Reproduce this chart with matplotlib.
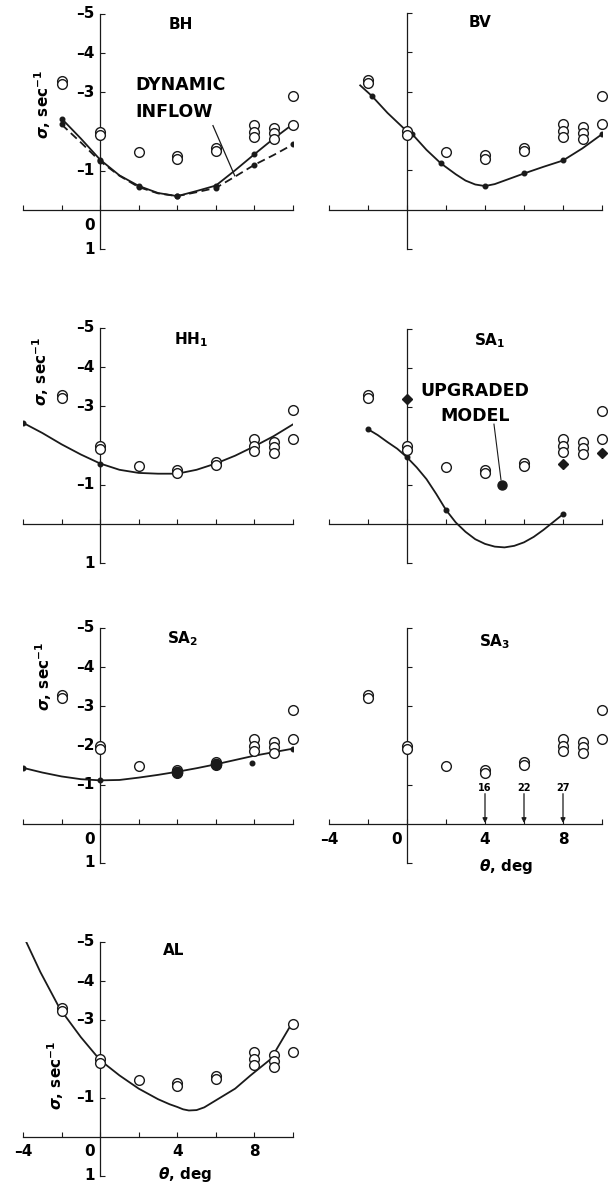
import matplotlib
matplotlib.use('Agg')
import matplotlib.pyplot as plt

plt.rcParams['font.family'] = ['DejaVu Sans']
plt.rcParams['font.weight'] = 'bold'
plt.rcParams['mathtext.fontset'] = 'custom'
plt.rcParams['mathtext.rm'] = 'DejaVu Sans:bold'
plt.rcParams['mathtext.it'] = 'DejaVu Sans:italic'
plt.rcParams['mathtext.bf'] = 'DejaVu Sans:bold'

# ---------------- data ----------------
# flight-test points (open circles), same in every panel
theta_exp = [-2, -2, 0, 0, 2, 4, 4, 6, 6, 8, 8, 8, 9, 9, 9, 10, 10]
sigma_exp = [-3.3, -3.22, -2.0, -1.9, -1.47, -1.38, -1.3, -1.57, -1.5,
             -2.17, -2.0, -1.85, -2.1, -1.95, -1.8, -2.9, -2.17]

# BH
bh_theta = [-2, -1, 0, 1, 2, 3, 4, 5, 6, 7, 8, 9, 10]
bh_solid = [-2.33, -1.82, -1.28, -0.88, -0.61, -0.43, -0.35, -0.48, -0.62, -1.01, -1.42, -1.82, -2.19]
bh_dash = [-2.18, -1.72, -1.24, -0.87, -0.58, -0.42, -0.35, -0.45, -0.56, -0.85, -1.15, -1.4, -1.67]

# BV
bv_theta = [-2.4, -1.8, -1, 0, 0.27, 1, 1.73, 2.5, 3, 3.5, 4, 4.5, 5, 6, 7, 8, 9, 10]
bv_sigma = [-3.16, -2.89, -2.46, -1.99, -1.92, -1.52, -1.18, -0.9, -0.74, -0.64, -0.6,
            -0.65, -0.74, -0.92, -1.09, -1.25, -1.56, -1.92]
bv_dots = [1, 4, 6, 10, 13, 15, 17]

# HH1
hh_theta = [-4, -3, -2, -1, 0, 1, 2, 3, 4, 5, 6, 7, 8, 9, 10]
hh_sigma = [-2.58, -2.32, -2.03, -1.77, -1.54, -1.38, -1.3, -1.28, -1.28, -1.38, -1.54, -1.74, -1.98, -2.24, -2.54]
hh_dots = [0, 4, 8, 12]

# SA1
sa1_theta = [-2, -1.5, -1, -0.5, 0, 0.5, 1, 1.5, 2, 2.5, 3, 3.5, 4, 4.5, 5, 5.5, 6, 6.5, 7, 7.5, 8]
sa1_sigma = [-2.43, -2.28, -2.1, -1.93, -1.71, -1.45, -1.15, -0.77, -0.36, -0.04, 0.2, 0.39,
             0.51, 0.58, 0.6, 0.56, 0.47, 0.33, 0.15, -0.05, -0.25]
sa1_dots = [0, 4, 8, 20]
sa1_up_theta = [0, 8, 10]
sa1_up_sigma = [-3.2, -1.53, -1.83]
sa1_upc_theta = [4.87]
sa1_upc_sigma = [-1.0]

# SA2
sa2_theta = [-4, -3, -2, -1, 0, 1, 2, 3, 4, 5, 6, 7, 8, 9, 10]
sa2_sigma = [-1.43, -1.31, -1.21, -1.14, -1.11, -1.12, -1.18, -1.25, -1.33, -1.42, -1.52, -1.63, -1.74, -1.83, -1.92]
sa2_dots = [0, 4, 14]
sa2_big_theta = [4, 6]
sa2_big_sigma = [-1.33, -1.52]
sa2_small_theta = [7.86]
sa2_small_sigma = [-1.56]

# SA3 arrows
sa3_arrow_theta = [4, 6, 8]
sa3_arrow_text = ['16', '22', '27']

# AL
al_theta = [-3.83, -3.1, -2.09, -1, 0, 1, 2, 3, 3.6, 4, 4.3, 4.6, 5, 5.4, 6, 7, 7.8, 8.85, 9.83]
al_sigma = [-5.0, -4.23, -3.29, -2.56, -1.97, -1.58, -1.24, -0.97, -0.84, -0.77, -0.71, -0.68,
            -0.69, -0.76, -0.94, -1.24, -1.58, -2.0, -2.82]

# ---------------- layout ----------------
W, H = 608, 1189
fig = plt.figure(figsize=(W / 100, H / 100), dpi=100)
INK = '#1a1a1a'
FS = 11
FS_ANN = 12.5


def fmt(v):
    return f'{v:d}'.replace('-', '\u2013')


def make_ax(left, right, top, bottom):
    ax = fig.add_axes([left / W, 1 - bottom / H, (right - left) / W, (bottom - top) / H])
    ax.set_xlim(-4, 10)
    ax.set_ylim(1, -5)
    ax.patch.set_alpha(0)
    for s in ['top', 'right']:
        ax.spines[s].set_visible(False)
    ax.spines['left'].set_position(('data', 0))
    ax.spines['bottom'].set_position(('data', 0))
    for s in ['left', 'bottom']:
        ax.spines[s].set_linewidth(0.9)
        ax.spines[s].set_color(INK)
    ax.spines['left'].set_bounds(-5, 1)
    ax.spines['bottom'].set_bounds(-4, 10)
    ax.set_xticks([-4, -2, 0, 2, 4, 6, 8, 10])
    ax.set_yticks([-5, -4, -3, -2, -1, 1])
    ax.tick_params(direction='in', length=3.5, width=0.8, color=INK,
                   labelleft=False, labelbottom=False)
    return ax


def exp_pts(ax):
    ax.plot(theta_exp, sigma_exp, 'o', ms=7, mfc='white', mec=INK, mew=1.0,
            clip_on=False, zorder=5)


def ylabels(ax, vals, zero=True):
    for v in vals:
        ax.text(-0.28, v, fmt(v), ha='right', va='center', fontsize=FS)
    if zero:
        ax.text(-0.28, 0.4, '0', ha='right', va='center', fontsize=FS)
    ax.text(-0.28, 1.0, '1', ha='right', va='center', fontsize=FS)


def sig_label(ax, x, y):
    ax.text(x, y, r'$\sigma$, sec$^{-1}$', rotation=90, ha='center', va='center', fontsize=FS)


def title(ax, x, y, s):
    ax.text(x, y, s, ha='center', va='baseline', fontsize=FS)


def curve(ax, th, sg, dots=None, ls='-'):
    ax.plot(th, sg, ls, color=INK, lw=1.3, zorder=4, solid_joinstyle='round')
    if dots is not None:
        ax.plot([th[i] for i in dots], [sg[i] for i in dots], 'o', ms=3.3,
                color=INK, zorder=4)


# BH
ax = make_ax(23, 293, 14, 249)
exp_pts(ax)
ax.plot(bh_theta, bh_solid, '-', color=INK, lw=1.3, marker='o', ms=3.3, markevery=2, zorder=4)
ax.plot(bh_theta, bh_dash, '--', color=INK, lw=1.3, dashes=(4.5, 2.5), marker='o', ms=3.3,
        markevery=2, zorder=4)
ylabels(ax, [-5, -4, -3, -1])
sig_label(ax, -3.0, -2.7)
title(ax, 4.2, -4.62, 'BH')
ax.text(1.81, -3.05, 'DYNAMIC', ha='left', va='baseline', fontsize=FS_ANN)
ax.text(1.81, -2.36, 'INFLOW', ha='left', va='baseline', fontsize=FS_ANN)
ax.plot([5.85, 6.98], [-2.15, -0.87], color=INK, lw=0.9)

# BV
ax = make_ax(329, 602, 13, 249)
exp_pts(ax)
curve(ax, bv_theta, bv_sigma, bv_dots)
title(ax, 3.74, -4.64, 'BV')

# HH1
ax = make_ax(23, 293, 328, 563)
exp_pts(ax)
curve(ax, hh_theta, hh_sigma, hh_dots)
ylabels(ax, [-5, -4, -3, -1], zero=False)
sig_label(ax, -3.1, -3.9)
title(ax, 4.7, -4.59, r'HH$_{1}$')

# SA1
ax = make_ax(329, 602, 329, 563)
exp_pts(ax)
curve(ax, sa1_theta, sa1_sigma, sa1_dots)
ax.plot(sa1_up_theta, sa1_up_sigma, 'D', ms=5, color=INK, clip_on=False, zorder=6)
ax.plot(sa1_upc_theta, sa1_upc_sigma, 'o', ms=6.5, color=INK, clip_on=False, zorder=6)
title(ax, 4.26, -4.59, r'SA$_{1}$')
ax.text(3.5, -3.28, 'UPGRADED', ha='center', va='baseline', fontsize=FS_ANN)
ax.text(3.5, -2.64, 'MODEL', ha='center', va='baseline', fontsize=FS_ANN)
ax.plot([4.46, 4.82], [-2.56, -1.13], color=INK, lw=0.8)

# SA2
ax = make_ax(23, 293, 628, 863)
exp_pts(ax)
curve(ax, sa2_theta, sa2_sigma, sa2_dots)
ax.plot(sa2_big_theta, sa2_big_sigma, 'o', ms=7.5, color=INK, zorder=6)
ax.plot(sa2_small_theta, sa2_small_sigma, 'o', ms=3.3, color=INK, zorder=6)
ylabels(ax, [-5, -4, -3, -2, -1])
sig_label(ax, -2.95, -3.77)
title(ax, 4.3, -4.62, r'SA$_{2}$')

# SA3
ax = make_ax(329, 602, 628, 863)
exp_pts(ax)
for t, s in zip(sa3_arrow_theta, sa3_arrow_text):
    ax.annotate('', xy=(t, -0.02), xytext=(t, -0.77),
                arrowprops=dict(arrowstyle='-|>', color=INK, lw=0.9,
                                mutation_scale=7, shrinkA=0, shrinkB=0))
    ax.text(t, -0.92, s, ha='center', va='center', fontsize=7)
for v in [-4, 4, 8]:
    ax.text(v, 0.41, fmt(v), ha='center', va='center', fontsize=FS)
ax.text(-0.28, 0.41, '0', ha='right', va='center', fontsize=FS)
ax.text(5.06, 1.08, r'$\theta$, deg', ha='center', va='center', fontsize=FS)
title(ax, 4.5, -4.54, r'SA$_{3}$')

# AL
ax = make_ax(23, 293, 942, 1176)
exp_pts(ax)
curve(ax, al_theta, al_sigma, None)
ylabels(ax, [-5, -4, -3, -1], zero=False)
ax.text(-0.28, 0.36, '0', ha='right', va='center', fontsize=FS)
for v in [-4, 4, 8]:
    ax.text(v, 0.36, fmt(v), ha='center', va='center', fontsize=FS)
ax.text(4.4, 0.97, r'$\theta$, deg', ha='center', va='center', fontsize=FS)
sig_label(ax, -2.3, -1.59)
title(ax, 3.8, -4.67, 'AL')

fig.savefig('out.png', dpi=100)
